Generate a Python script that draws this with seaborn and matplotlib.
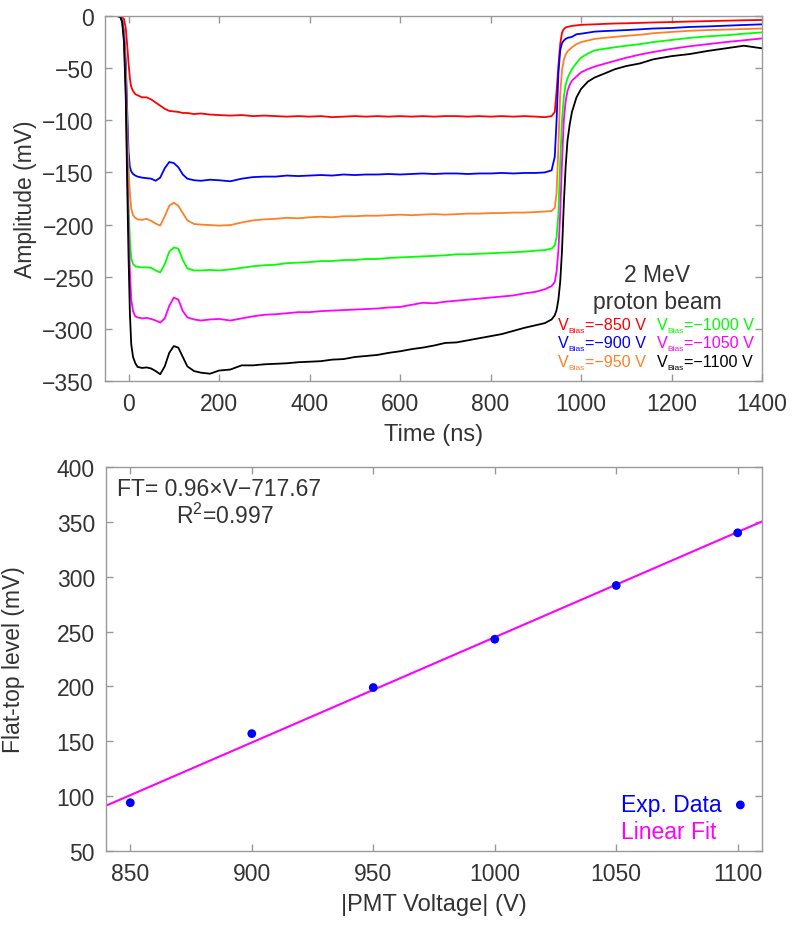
import matplotlib
matplotlib.use("Agg")
import matplotlib.pyplot as plt
import numpy as np
import pandas as pd
import seaborn as sns

# ---------------- data: PMT waveforms (top panel) ----------------
time_ns = [
    -50, -25, -18, -14, -10, -6, -3, 0, 3, 6,
    10, 15, 20, 30, 40, 50, 60, 70, 80, 90,
    100, 110, 120, 130, 145, 160, 180, 200, 225, 250,
    275, 300, 325, 350, 375, 400, 425, 450, 475, 500,
    525, 550, 575, 600, 625, 650, 675, 700, 725, 750,
    775, 800, 825, 850, 875, 900, 920, 935, 942, 946,
    950, 954, 958, 962, 966, 970, 975, 980, 990, 1000,
    1015, 1030, 1050, 1075, 1100, 1130, 1160, 1200, 1240, 1280,
    1320, 1360, 1400,
]

amp_850 = [
    0, 0, -0.5, -1, -3, -12, -28, -45, -60, -68,
    -72, -75, -76, -78, -78, -80, -83, -86, -89, -91,
    -91.5, -92, -93, -93, -94, -93.5, -94.5, -95, -95.5, -95,
    -96, -95.5, -96, -96.5, -96, -96.5, -96, -97, -96.5, -96,
    -96.5, -96, -96.5, -96, -96.5, -96, -96.5, -96, -96, -96.5,
    -96, -96.5, -96, -96.5, -96, -96.5, -97, -96, -92, -72,
    -48, -27, -16, -12.5, -11, -10.5, -10, -9.5, -9, -8.5,
    -8.2, -8, -7.6, -7.2, -7, -6.6, -6.2, -5.8, -5.3, -4.9,
    -4.5, -4.1, -3.8,
]

amp_900 = [
    0, 0, -1, -4, -15, -45, -90, -130, -145, -149,
    -151.5, -153, -154, -155, -155.5, -156, -158, -155, -146, -140,
    -141, -145, -152, -156, -157.5, -158, -157, -157.5, -158.5, -156,
    -154.5, -154, -154, -153, -153.5, -153, -152.5, -153, -152, -152.5,
    -152, -152, -151.5, -152, -151.5, -151, -151.5, -151, -151, -151.5,
    -151, -151, -150.5, -151, -150.5, -150.5, -150, -148, -135, -100,
    -55, -33, -26, -23.5, -22, -21, -20.5, -20, -17.5, -17,
    -16, -15, -14.5, -14, -13.5, -12.8, -12, -11.5, -10.5, -10,
    -9.3, -8.6, -8,
]

amp_950 = [
    0, 0, -1, -5, -18, -55, -105, -145, -170, -185,
    -191, -193.5, -195, -195.5, -194.5, -196.5, -199, -201, -192, -182,
    -179, -182, -189, -196, -199.5, -200, -200.5, -201, -200.5, -198,
    -196, -195, -194.5, -193.5, -194, -193, -192.5, -193, -192, -192,
    -191.5, -191.5, -191, -190.5, -191, -190.5, -190, -190.5, -190, -189.5,
    -189.5, -189, -189, -188.5, -188.5, -188, -187.5, -187, -184, -170,
    -125, -75, -52, -42, -37, -34, -32, -30, -27, -25,
    -23.5, -22, -21, -20, -19, -18, -16.5, -15.3, -14.2, -13.5,
    -13, -12.5, -12,
]

amp_1000 = [
    0, 0, -1, -5, -20, -65, -125, -180, -215, -232,
    -238, -240, -240.5, -241, -241, -241.5, -244, -246, -238, -226,
    -222, -223, -234, -242, -244, -244, -243.5, -244, -243, -241.5,
    -240, -239, -238.5, -237, -236.5, -236, -235, -235, -234, -234,
    -233, -233, -232, -231.5, -231, -230.5, -230, -229.5, -228.5, -228.5,
    -228, -227.5, -227, -226.5, -226, -225, -224.5, -223, -220, -212,
    -190, -140, -100, -78, -66, -60, -55, -51, -45, -40,
    -36, -33, -31.5, -30, -28.5, -27, -25, -23, -21, -19.5,
    -18.5, -17, -15.7,
]

amp_1050 = [
    0, 0, -1, -5, -22, -70, -140, -200, -245, -272,
    -283, -288, -289, -290, -289.5, -290.5, -292, -294, -290, -278,
    -270, -272, -283, -289, -291, -292, -291, -290.5, -292, -290,
    -288, -286.5, -286, -285, -284, -284, -283, -282.5, -282, -281.5,
    -281, -280.5, -279.5, -279, -277, -275, -275.5, -274, -273, -272,
    -271, -270, -269, -268, -266, -264.5, -262, -259, -255, -245,
    -225, -190, -140, -100, -82, -72, -66, -62, -58, -54,
    -51, -48.5, -46, -43, -40, -37, -34.5, -31.5, -29, -27,
    -25, -23.3, -21.5,
]

amp_1100 = [
    0, 0, -1, -6, -25, -80, -160, -230, -285, -315,
    -327, -333, -336.5, -337.5, -337, -338, -340.5, -343.5, -336, -323,
    -316.5, -318, -327, -336, -340.5, -342, -343, -340, -339, -335,
    -335, -334, -333.5, -333, -332, -331.5, -331, -329.5, -329, -327,
    -326, -325, -323, -321.5, -319.5, -318, -316, -313.5, -313, -311,
    -309, -307, -305, -302, -299, -296.5, -294.5, -291, -287, -282,
    -272, -255, -225, -180, -145, -120, -104, -92, -78, -70,
    -63, -59, -55.5, -51, -48, -45.5, -41.5, -38.5, -36.5, -33.5,
    -31, -28.5, -31,
]

bias_values = ["\u2212850 V", "\u2212900 V", "\u2212950 V",
               "\u22121000 V", "\u22121050 V", "\u22121100 V"]
trace_colors = ["#FF0000", "#0000FF", "#FF7F27", "#00FF00", "#FF00FF", "#000000"]

# ---------------- data: flat-top level vs PMT voltage (bottom panel) ----------------
pmt_voltage = [850, 900, 950, 1000, 1050, 1100]
flat_top_mV = [94, 157, 199, 243, 292, 340]
fit_text = "FT= 0.96\u00d7V\u2212717.67"
r2_value = "0.997"

# ---------------- styling ----------------
sns.set_style("ticks")
plt.rcParams["font.family"] = ["Liberation Sans", "DejaVu Sans"]
plt.rcParams["axes.unicode_minus"] = True

TXT = "#333333"
SPINE = "#999999"
FS = 16.5
FSL = 17

W, H = 794, 928
fig = plt.figure(figsize=(W / 100, H / 100), dpi=100)


def px_axes(l, t, r, b):
    return fig.add_axes([l / W, 1 - b / H, (r - l) / W, (b - t) / H])


def ftext(x, y, s, **kw):
    return fig.text(x / W, 1 - y / H, s, **kw)


def style_axes(ax):
    for s in ax.spines.values():
        s.set_color(SPINE)
        s.set_linewidth(1.0)
    ax.tick_params(direction="in", length=5, width=1, color=SPINE,
                   labelcolor=TXT, labelsize=FS, top=True, right=True, pad=8)


# ---------------- top panel ----------------
ax1 = px_axes(105, 17, 762, 382)
amps = [amp_850, amp_900, amp_950, amp_1000, amp_1050, amp_1100]
frames = []
for lab, a in zip(bias_values, amps):
    frames.append(pd.DataFrame({"t": time_ns, "amp": a, "bias": lab}))
df = pd.concat(frames, ignore_index=True)
sns.lineplot(data=df, x="t", y="amp", hue="bias", hue_order=bias_values,
             palette=dict(zip(bias_values, trace_colors)), estimator=None,
             sort=False, linewidth=1.3, legend=False, ax=ax1)
ax1.set_xlim(-52, 1400)
ax1.set_ylim(-350, 0)
ax1.set_xticks(range(0, 1401, 200))
ax1.set_yticks(range(-350, 1, 50))
style_axes(ax1)
ax1.set_xlabel("Time (ns)", fontsize=FSL, color=TXT)
ax1.set_ylabel("Amplitude (mV)", fontsize=FS, color=TXT)
ax1.yaxis.set_label_coords(-0.103, 0.5)
ax1.xaxis.set_label_coords(0.5, -0.116)

ftext(657, 275, "2 MeV", ha="center", va="center", fontsize=FS, color=TXT)
ftext(657, 302, "proton beam", ha="center", va="center", fontsize=FS, color=TXT)
col_x = [558, 656.5]
row_base = [330, 348.3, 366.6]
for i, (lab, c) in enumerate(zip(bias_values, trace_colors)):
    x0 = col_x[i // 3]
    yb = row_base[i % 3]
    ftext(x0, yb, "V", ha="left", va="baseline", fontsize=11.6, color=c)
    ftext(x0 + 10.5, yb + 3, "Bias", ha="left", va="baseline", fontsize=6, color=c)
    ftext(x0 + 27, yb, "=" + lab, ha="left", va="baseline", fontsize=11.6, color=c)

# ---------------- bottom panel ----------------
ax2 = px_axes(106, 468, 762, 852)
ax2.set_xlim(840, 1110)
ax2.set_ylim(50, 400)
sns.regplot(x=pmt_voltage, y=flat_top_mV, ci=None, truncate=False, scatter=False,
            color="#FF00FF", line_kws={"linewidth": 1.5, "zorder": 2}, ax=ax2)
sns.scatterplot(x=pmt_voltage, y=flat_top_mV, color="#0000FF", s=40,
                edgecolor="none", ax=ax2, zorder=3)
ax2.set_xlim(840, 1110)
ax2.set_ylim(50, 400)
ax2.set_xticks(range(850, 1101, 50))
ax2.set_yticks(range(50, 401, 50))
style_axes(ax2)
ax2.set_xlabel("|PMT Voltage| (V)", fontsize=FSL, color=TXT)
ax2.set_ylabel("Flat-top level (mV)", fontsize=FS, color=TXT)
ax2.yaxis.set_label_coords(-0.123, 0.5)
ax2.xaxis.set_label_coords(0.5, -0.11)

ax2.text(0.017, 0.945, fit_text, transform=ax2.transAxes,
         ha="left", va="center", fontsize=FS, color=TXT)
ax2.text(0.106, 0.875, r"$\mathregular{R^2}$=" + r2_value, transform=ax2.transAxes,
         ha="left", va="center", fontsize=FS, color=TXT)

ax2.text(0.785, 0.12, "Exp. Data", transform=ax2.transAxes,
         ha="left", va="center", fontsize=FS, color="#0000FF")
ax2.scatter([0.967], [0.12], transform=ax2.transAxes, s=40, color="#0000FF",
            edgecolor="none", clip_on=False)
ax2.text(0.785, 0.05, "Linear Fit", transform=ax2.transAxes,
         ha="left", va="center", fontsize=FS, color="#FF00FF")

fig.savefig("out.png", dpi=100)
